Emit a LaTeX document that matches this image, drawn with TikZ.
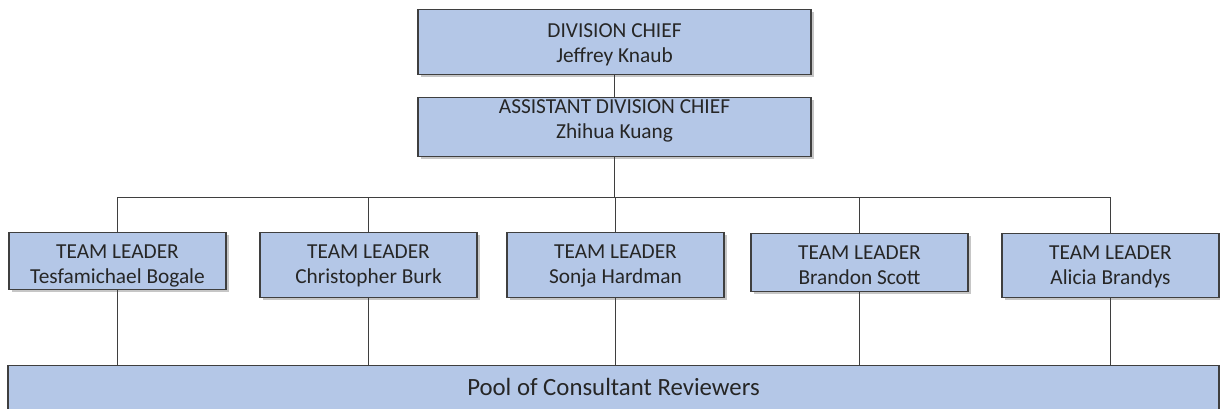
\documentclass[tikz,border=0pt]{standalone}
\usepackage{fontspec}
\setmainfont{Carlito}
\usepackage{tikz}
\usetikzlibrary{shadows}

\definecolor{boxblue}{HTML}{B4C7E7}
\definecolor{linegray}{HTML}{3F3F3F}
\definecolor{textgray}{HTML}{262626}

\begin{document}
\begin{tikzpicture}[x=0.75pt,y=-0.75pt,line width=1.1pt,draw=linegray,
				box/.style 2 args={rectangle,draw=linegray,fill=boxblue,align=center,anchor=north,
					inner xsep=0pt,inner ysep=0pt,text=textgray,
					font=\fontsize{16}{18.75}\selectfont,
					text height=#1,text depth=#2,
					drop shadow={opacity=0.45,shadow xshift=2pt,shadow yshift=-2pt}},
				chief box/.style={minimum width=294.75pt},
				lead box/.style={minimum width=163pt}]
				
				\useasboundingbox (0,0) rectangle (1220,408);
				
				\node[box={39.75pt}{9pt},chief box] (chief) at (614.5,9) {DIVISION CHIEF\\Jeffrey Knaub};
				\node[box={30.75pt}{13.5pt},chief box] (assist) at (614.5,97) {ASSISTANT DIVISION CHIEF\\Zhihua Kuang};
				
				\node[box={38.25pt}{4.5pt},lead box] (t1) at (117.5,232) {TEAM LEADER\\Tesfamichael Bogale};
				\node[box={38.25pt}{10.5pt},lead box] (t2) at (368.5,232) {TEAM LEADER\\Christopher Burk};
				\node[box={38.25pt}{10.5pt},lead box] (t3) at (615.5,232) {TEAM LEADER\\Sonja Hardman};
				\node[box={38.25pt}{5.25pt},lead box] (t4) at (859.5,233) {TEAM LEADER\\Brandon Scott};
				\node[box={38.25pt}{9.75pt},lead box] (t5) at (1110.5,233) {TEAM LEADER\\Alicia Brandys};
				
				\node[box={22.5pt}{15pt},minimum width=908.25pt,font=\fontsize{18.6}{22}\selectfont] (pool) at (613.5,365) {Pool of Consultant Reviewers};
				
				\coordinate (bus) at (614.5,197.5);
				
				\draw (chief) -- (assist);
				\draw (assist) -- (bus);
				\foreach \t in {t1,t2,t3,t4,t5}
					\draw (bus) -| (\t.north);
				\foreach \t in {t1,t2,t3,t4,t5}
					\draw (\t.south) -- (\t.south |- pool.north);
				
				\end{tikzpicture}
\end{document}
